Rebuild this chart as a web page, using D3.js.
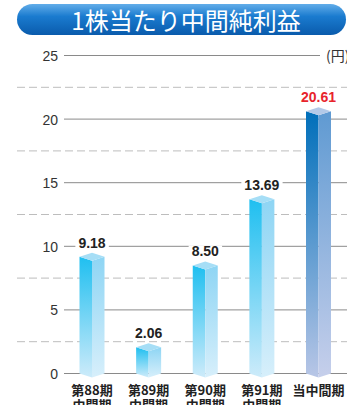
<!DOCTYPE html>
<html><head><meta charset="utf-8">
<script src="https://cdn.jsdelivr.net/npm/d3@7"></script>
<style>
html,body{margin:0;padding:0;background:#fff;overflow:hidden;}
svg{display:block;}
</style></head>
<body>
<script>
const title = "1株当たり中間純利益";
const unitLabel = "(円)";
const categories = ["第88期\n中間期", "第89期\n中間期", "第90期\n中間期", "第91期\n中間期", "当中間期"];
const values = [9.18, 2.06, 8.50, 13.69, 20.61];
const valueLabels = ["9.18", "2.06", "8.50", "13.69", "20.61"];
const highlight = [false, false, false, false, true];
const yTicks = [0, 5, 10, 15, 20, 25];
const yDashes = [2.5, 7.5, 12.5, 17.5, 22.5];

const W = 347, H = 405;
const svg = d3.select("body").append("svg").attr("width", W).attr("height", H);
const defs = svg.append("defs");

function grad(id, c0, c1) {
  const g = defs.append("linearGradient").attr("id", id).attr("x1", 0).attr("y1", 0).attr("x2", 0).attr("y2", 1);
  g.append("stop").attr("offset", "0%").attr("stop-color", c0);
  g.append("stop").attr("offset", "100%").attr("stop-color", c1);
}
grad("frontN", "#1fbff0", "#cdebfa");
grad("sideN", "#8ed5f4", "#d7effb");
grad("frontH", "#006fba", "#b8c6e6");
grad("sideH", "#5f9ad2", "#c6cfeb");
const bg = defs.append("linearGradient").attr("id", "banner").attr("x1", 0).attr("y1", 0).attr("x2", 0).attr("y2", 1);
bg.append("stop").attr("offset", "0%").attr("stop-color", "#62ade9");
bg.append("stop").attr("offset", "40%").attr("stop-color", "#1a7bcf");
bg.append("stop").attr("offset", "100%").attr("stop-color", "#0a5bac");

// Banner
svg.append("rect").attr("x", 17).attr("y", 4).attr("width", 329).attr("height", 31)
  .attr("rx", 15.5).attr("fill", "url(#banner)");
svg.append("text").attr("x", 186).attr("y", 30).attr("text-anchor", "middle")
  .attr("font-family", "'Noto Sans CJK JP', sans-serif").attr("font-size", 24)
  .attr("fill", "#fff").text(title);

const y = d3.scaleLinear().domain([0, 25]).range([373.5, 55.5]);
const x = d3.scalePoint().domain(categories).range([92, 318.5]);

// dashed gridlines
svg.append("g").selectAll("line").data(yDashes).join("line")
  .attr("x1", 17).attr("x2", W).attr("y1", d => y(d)).attr("y2", d => y(d))
  .attr("stroke", "#bdbdbd").attr("stroke-width", 1).attr("stroke-dasharray", "8,4");

// y axis with solid lines
const yAxis = d3.axisLeft(y).tickValues(yTicks).tickSize(0).tickPadding(0).tickFormat(d3.format("d"));
const ag = svg.append("g").attr("transform", "translate(58,0)").call(yAxis);
ag.select(".domain").remove();
ag.selectAll("text").attr("font-family", "'Liberation Sans', Arial, sans-serif")
  .attr("font-size", 14).attr("fill", "#333").attr("dy", "0.36em");
svg.append("g").selectAll("line").data(yTicks).join("line")
  .attr("x1", 64).attr("x2", d => d === 25 ? 320 : W)
  .attr("y1", d => y(d)).attr("y2", d => y(d))
  .attr("stroke", "#8a8a8a").attr("stroke-width", 1);
svg.append("text").attr("x", 326).attr("y", y(25)).attr("dy", "0.36em")
  .attr("font-family", "'Noto Sans CJK JP', sans-serif").attr("font-size", 14)
  .attr("fill", "#333").text(unitLabel);

// bars
const hw = 12.5, d = 4;
const data = categories.map((c, i) => ({c, v: values[i], lab: valueLabels[i], h: highlight[i]}));
const bars = svg.append("g").selectAll("g").data(data).join("g");
bars.each(function(p) {
  const g = d3.select(this);
  const cx = x(p.c), yt = y(p.v), y0 = y(0);
  const pts = a => a.map(q => q.join(",")).join(" ");
  g.append("polygon").attr("points", pts([[cx - hw, yt], [cx, yt + d], [cx, y0 + d], [cx - hw, y0]]))
    .attr("fill", p.h ? "url(#frontH)" : "url(#frontN)");
  g.append("polygon").attr("points", pts([[cx, yt + d], [cx + hw, yt], [cx + hw, y0], [cx, y0 + d]]))
    .attr("fill", p.h ? "url(#sideH)" : "url(#sideN)");
  g.append("polygon").attr("points", pts([[cx - hw, yt], [cx, yt - d], [cx + hw, yt], [cx, yt + d]]))
    .attr("fill", p.h ? "#b3c9e8" : "#a6def6");
  const t = g.append("text").attr("x", cx).attr("y", yt - d - 5).attr("text-anchor", "middle")
    .attr("font-family", "'Liberation Sans', Arial, sans-serif").attr("font-weight", "bold")
    .attr("font-size", 14).attr("fill", p.h ? "#e8242c" : "#222").text(p.lab);
  const bb = t.node().getBBox();
  g.insert("rect", "text").attr("x", bb.x - 3).attr("y", yt - d - 5 - 11).attr("width", bb.width + 6)
    .attr("height", 12).attr("fill", "#fff");
});

// x labels
const xl = svg.append("g").selectAll("text").data(categories).join("text")
  .attr("x", c => x(c)).attr("y", 395).attr("text-anchor", "middle")
  .attr("font-family", "'Noto Sans CJK JP', sans-serif").attr("font-weight", "bold")
  .attr("font-size", 13).attr("fill", "#222");
xl.each(function(c) {
  const lines = c.split("\n");
  d3.select(this).selectAll("tspan").data(lines).join("tspan")
    .attr("x", x(c)).attr("dy", (l, i) => i === 0 ? 0 : 15).text(l => l);
});
</script>
</body></html>
